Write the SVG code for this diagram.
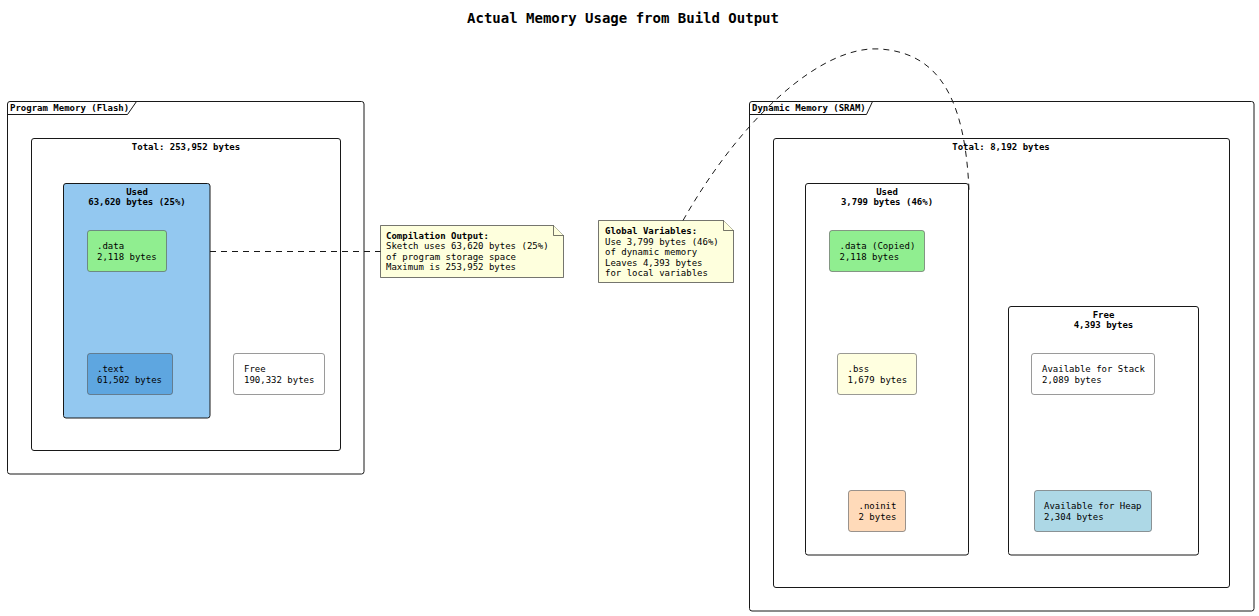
<svg xmlns="http://www.w3.org/2000/svg" width="1259" height="616" viewBox="0 0 1259 616">
<style>
text{font-family:"DejaVu Sans Mono","Liberation Mono",monospace;font-size:9px;fill:#000}
.b{font-weight:bold}
.title{font-size:14px;font-weight:bold}
.pkg{fill:none;stroke:#181818;stroke-width:1}
.cont{fill:#fff;stroke:#181818;stroke-width:1}
.box{stroke:#555;stroke-width:0.6}
.note{fill:#FEFFDD;stroke:#181818;stroke-width:0.6}
.link{fill:none;stroke:#181818;stroke-width:1;stroke-dasharray:6,5}
</style>
<rect width="1259" height="616" fill="#fff"/>
<text class="title" x="623" y="23" text-anchor="middle">Actual Memory Usage from Build Output</text>

<g id="flash">
<rect class="pkg" x="7.5" y="101.5" width="356.5" height="372.5" rx="2.5"/>
<path class="pkg" d="M7.5,114.5 H127.5 L136.5,101.5"/>
<text class="b" x="10" y="111">Program Memory (Flash)</text>
</g>
<g id="flash-total">
<rect class="cont" x="31.5" y="138.5" width="309" height="312" rx="2.5"/>
<text class="b" x="186" y="149.5" text-anchor="middle">Total: 253,952 bytes</text>
</g>
<g id="flash-used">
<rect x="63.5" y="183.5" width="146.5" height="234.5" rx="2.5" fill="#93C8F0" stroke="#181818" stroke-width="1"/>
<text class="b" x="137" y="194.5" text-anchor="middle">Used</text>
<text class="b" x="137" y="205" text-anchor="middle">63,620 bytes (25%)</text>
</g>
<g id="flash-data">
<rect class="box" x="87.5" y="230.5" width="79" height="41" rx="2.5" fill="#90EE90"/>
<text x="97" y="249.3">.data</text>
<text x="97" y="259.7">2,118 bytes</text>
</g>
<g id="flash-text">
<rect class="box" x="87.5" y="353.5" width="85" height="41" rx="2.5" fill="#5EA6E0"/>
<text x="97" y="372.3">.text</text>
<text x="97" y="382.7">61,502 bytes</text>
</g>
<g id="flash-free">
<rect class="box" x="233.5" y="353.5" width="91" height="41" rx="2.5" fill="#fff" stroke="#888"/>
<text x="244" y="372.3">Free</text>
<text x="244" y="382.7">190,332 bytes</text>
</g>

<g id="note-compile">
<path class="note" d="M380.5,225.5 H553.5 L563.5,235.5 V277.5 H380.5 Z"/>
<path class="note" d="M553.5,225.5 V235.5 H563.5"/>
<text class="b" x="386" y="238.5">Compilation Output:</text>
<text x="386" y="249">Sketch uses 63,620 bytes (25%)</text>
<text x="386" y="259.5">of program storage space</text>
<text x="386" y="270">Maximum is 253,952 bytes</text>
</g>
<g id="note-global">
<path class="note" d="M598.5,220.5 H723.5 L733.5,230.5 V282.5 H598.5 Z"/>
<path class="note" d="M723.5,220.5 V230.5 H733.5"/>
<text class="b" x="605" y="234">Global Variables:</text>
<text x="605" y="244.5">Use 3,799 bytes (46%)</text>
<text x="605" y="255">of dynamic memory</text>
<text x="605" y="265.5">Leaves 4,393 bytes</text>
<text x="605" y="276">for local variables</text>
</g>

<g id="sram">
<rect class="pkg" x="749.5" y="101.5" width="504.5" height="509.5" rx="2.5"/>
<path class="pkg" d="M749.5,114.5 H866.5 L872.5,101.5"/>
<text class="b" x="752" y="111">Dynamic Memory (SRAM)</text>
</g>
<g id="sram-total">
<rect class="cont" x="773.5" y="138.5" width="456" height="449" rx="2.5"/>
<text class="b" x="1001" y="149.5" text-anchor="middle">Total: 8,192 bytes</text>
</g>
<g id="sram-used">
<rect class="cont" x="805.5" y="183.5" width="163" height="371.5" rx="2.5"/>
<text class="b" x="887" y="194.5" text-anchor="middle">Used</text>
<text class="b" x="887" y="205" text-anchor="middle">3,799 bytes (46%)</text>
</g>
<g id="sram-data">
<rect class="box" x="829.5" y="230.5" width="95" height="41" rx="2.5" fill="#90EE90"/>
<text x="839.5" y="249.3">.data (Copied)</text>
<text x="839.5" y="259.7">2,118 bytes</text>
</g>
<g id="sram-bss">
<rect class="box" x="837.5" y="353.5" width="79" height="41" rx="2.5" fill="#FFFFE0" stroke="#888"/>
<text x="847.5" y="372.3">.bss</text>
<text x="847.5" y="382.7">1,679 bytes</text>
</g>
<g id="sram-noinit">
<rect class="box" x="848.5" y="490.5" width="57" height="41" rx="2.5" fill="#FFDAB9"/>
<text x="858.5" y="509.3">.noinit</text>
<text x="858.5" y="519.7">2 bytes</text>
</g>
<g id="sram-free">
<rect class="cont" x="1008.5" y="306.5" width="190" height="248.5" rx="2.5"/>
<text class="b" x="1103.5" y="317.5" text-anchor="middle">Free</text>
<text class="b" x="1103.5" y="328" text-anchor="middle">4,393 bytes</text>
</g>
<g id="sram-stack">
<rect class="box" x="1031.5" y="353.5" width="123" height="41" rx="2.5" fill="#fff" stroke="#888"/>
<text x="1042" y="372.3">Available for Stack</text>
<text x="1042" y="382.7">2,089 bytes</text>
</g>
<g id="sram-heap">
<rect class="box" x="1034.5" y="490.5" width="117" height="41" rx="2.5" fill="#ADD8E6"/>
<text x="1044" y="509.3">Available for Heap</text>
<text x="1044" y="519.7">2,304 bytes</text>
</g>

<g id="connectors">
<path class="link" d="M210,251.5 H380.5"/>
<path class="link" d="M683,220.5 C740,120 820,45 880,49 C940,53 965,100 969,190"/>
</g>
</svg>
